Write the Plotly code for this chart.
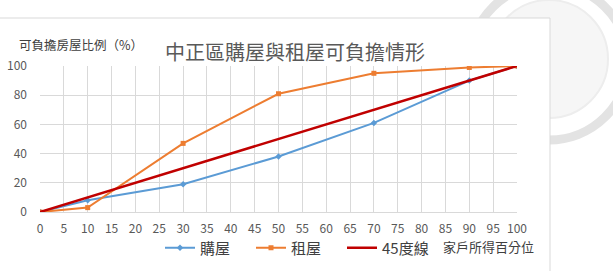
import plotly.graph_objects as go

income_pct = [0, 10, 30, 50, 70, 90, 100]
buy = [0, 8, 19, 38, 61, 90, 100]
rent = [0, 3, 47, 81, 95, 99, 100]
line45 = [0, 10, 30, 50, 70, 90, 100]

title = "中正區購屋與租屋可負擔情形"
ytitle = "可負擔房屋比例（%）"
xtitle = "家戶所得百分位"
x_ticks = list(range(0, 101, 5))
y_ticks = list(range(0, 101, 20))

L, R, T, B = 40, 96, 66, 59
W, H = 613, 271
pw, ph = W - L - R, H - T - B

def px(x):
    return (x - L) / pw

def py(y):
    return (H - B - y) / ph

fig = go.Figure()
fig.add_trace(go.Scatter(x=income_pct, y=buy, name="購屋", mode="lines+markers",
                         line=dict(color="#5B9BD5", width=2),
                         marker=dict(symbol="diamond", size=5, color="#5B9BD5")))
fig.add_trace(go.Scatter(x=income_pct, y=rent, name="租屋", mode="lines+markers",
                         line=dict(color="#ED7D31", width=2),
                         marker=dict(symbol="square", size=5, color="#ED7D31")))
fig.add_trace(go.Scatter(x=income_pct, y=line45, name="45度線", mode="lines",
                         line=dict(color="#C00000", width=2.5)))

shapes = [
    # faint seal watermark
    dict(type="circle", xref="paper", yref="paper",
         x0=px(470), x1=px(628), y0=py(140), y1=py(-16),
         line=dict(color="#E3E3E3", width=9), fillcolor="rgba(0,0,0,0)", layer="below"),
    dict(type="circle", xref="paper", yref="paper",
         x0=px(490), x1=px(608), y0=py(118), y1=py(0),
         line=dict(color="#EDEDED", width=2), fillcolor="#F6F6F6", layer="below"),
    # white chart area covering seal
    dict(type="rect", xref="paper", yref="paper",
         x0=px(0), x1=px(550), y0=py(271), y1=py(18),
         line=dict(width=0), fillcolor="white", layer="below"),
    # chart border
    dict(type="line", xref="paper", yref="paper",
         x0=px(0), x1=px(550), y0=py(18), y1=py(18),
         line=dict(color="#D9D9D9", width=1), layer="below"),
    dict(type="line", xref="paper", yref="paper",
         x0=px(550), x1=px(550), y0=py(18), y1=py(271),
         line=dict(color="#D9D9D9", width=1), layer="below"),
]

fig.update_layout(
    width=W, height=H,
    margin=dict(l=L, r=R, t=T, b=B, autoexpand=False),
    paper_bgcolor="white", plot_bgcolor="rgba(0,0,0,0)",
    font=dict(family="Noto Sans CJK TC, sans-serif", color="#595959", size=12),
    title=dict(text=title, x=295 / W, xanchor="center", y=1 - 53 / H, yanchor="middle",
               font=dict(size=20, color="#595959")),
    showlegend=True,
    legend=dict(orientation="h", x=px(160), xanchor="left", y=py(248), yanchor="middle",
                font=dict(size=15, color="#404040"), entrywidth=46, entrywidthmode="pixels",
                bgcolor="rgba(0,0,0,0)", itemwidth=30),
    shapes=shapes,
    annotations=[
        dict(text=ytitle, xref="paper", yref="paper", x=px(17), y=py(44),
             xanchor="left", yanchor="middle", showarrow=False,
             font=dict(size=12.5, color="#404040")),
        dict(text=xtitle, xref="paper", yref="paper", x=px(536), y=py(246),
             xanchor="right", yanchor="middle", showarrow=False,
             font=dict(size=13, color="#404040")),
    ],
)
fig.update_xaxes(range=[0, 100], tickvals=x_ticks, showgrid=True, gridcolor="#D9D9D9",
                 gridwidth=1, zeroline=False, showline=True, linecolor="#D9D9D9",
                 ticks="", ticklabelstandoff=6, tickfont=dict(size=12, color="#595959"))
fig.update_yaxes(range=[0, 100], tickvals=y_ticks, showgrid=True, gridcolor="#D9D9D9",
                 gridwidth=1, zeroline=False, showline=False, ticks="",
                 ticklabelstandoff=12, tickfont=dict(size=12, color="#595959"))

fig.write_html("out.html")
